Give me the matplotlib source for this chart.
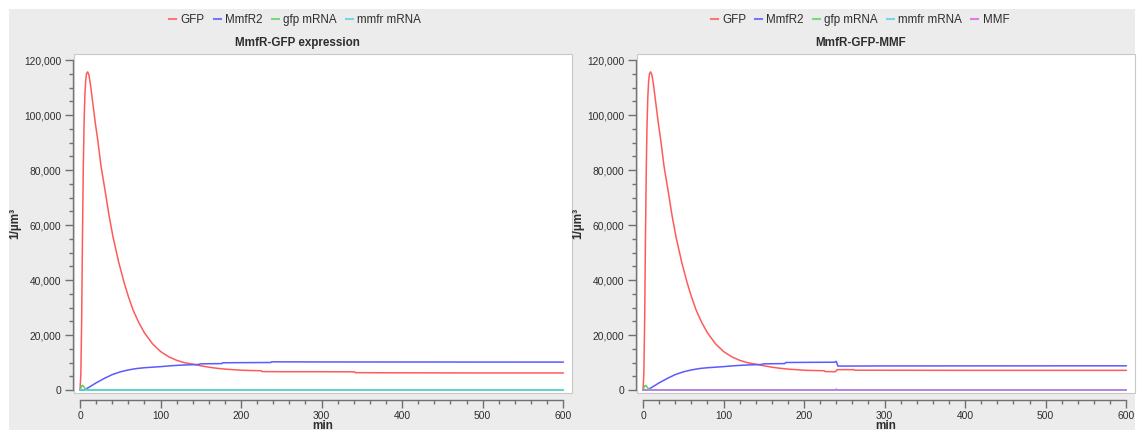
import matplotlib
matplotlib.use("Agg")
import matplotlib.pyplot as plt
from matplotlib.patches import Rectangle
from matplotlib.lines import Line2D
from matplotlib.ticker import MultipleLocator, FuncFormatter

plt.rcParams['font.family'] = ['Liberation Sans', 'DejaVu Sans']

# ---- data (time in min, concentration in 1/µm³) ----
gfp_t = [0, 1, 2, 3, 4, 5, 6, 7, 8, 9.5, 11, 13, 16, 19, 22, 26, 31, 36, 41, 48,
         55, 60, 66, 73, 80, 90, 100, 110, 120, 130, 140, 150, 160, 170, 180, 190,
         200, 210, 225, 226, 250, 300, 341, 342, 400, 500, 600]
gfp_a = [0, 6000, 25000, 55000, 80000, 97000, 107000, 112500, 115000, 115700,
         114600, 111000, 104000, 97000, 90900, 81500, 72700, 63500, 55600, 46500,
         38800, 34000, 29000, 24500, 20800, 16800, 14000, 12100, 10800, 9900, 9400,
         8800, 8300, 7900, 7600, 7400, 7200, 7100, 7000, 6700, 6650, 6650, 6600,
         6300, 6250, 6200, 6200]

mmfr_t = [0, 5, 10, 20, 30, 40, 50, 60, 70, 80, 90, 100, 110, 120, 130, 140, 148,
          149, 160, 176, 177, 200, 237, 238, 300, 600]
mmfr_a = [0, 0, 800, 2600, 4200, 5600, 6600, 7300, 7800, 8100, 8300, 8500, 8750,
          8950, 9100, 9200, 9300, 9500, 9550, 9600, 9900, 9950, 10000, 10250, 10200,
          10150]

gfp_mrna_t = [0, 1, 2, 3, 4, 5, 6, 8, 10, 12, 600]
gfp_mrna_v = [0, 700, 1400, 1700, 1500, 1100, 700, 250, 80, 0, 0]

mmfr_mrna_t = [0, 600]
mmfr_mrna_v = [0, 0]

# MMF-induced run: identical until the inducer pulse at t = 240 min
gfp_b_t = [0, 1, 2, 3, 4, 5, 6, 7, 8, 9.5, 11, 13, 16, 19, 22, 26, 31, 36, 41, 48,
           55, 60, 66, 73, 80, 90, 100, 110, 120, 130, 140, 150, 160, 170, 180, 190,
           200, 210, 225, 226, 239, 241, 262, 263, 400, 600]
gfp_b = [0, 6000, 25000, 55000, 80000, 97000, 107000, 112500, 115000, 115700,
         114600, 111000, 104000, 97000, 90900, 81500, 72700, 63500, 55600, 46500,
         38800, 34000, 29000, 24500, 20800, 16800, 14000, 12100, 10800, 9900, 9400,
         8800, 8300, 7900, 7600, 7400, 7200, 7100, 7000, 6700, 6650, 7400, 7400,
         7200, 7150, 7150]

mmfr_b_t = [0, 5, 10, 20, 30, 40, 50, 60, 70, 80, 90, 100, 110, 120, 130, 140, 148,
            149, 160, 176, 177, 200, 238, 240, 242, 300, 600]
mmfr_b = [0, 0, 800, 2600, 4200, 5600, 6600, 7300, 7800, 8100, 8300, 8500, 8750,
          8950, 9100, 9200, 9300, 9500, 9550, 9600, 10000, 10050, 10100, 10400, 8700,
          8750, 8800]

mmf_t = [0, 239, 240, 241, 600]
mmf_v = [0, 0, 400, 0, 0]

C_GFP = '#ff5a5a'
C_MMFR = '#5a5aff'
C_GFPM = '#5ad65a'
C_MMFRM = '#5ad0e6'
C_MMF = '#e65ae6'

fig = plt.figure(figsize=(11.38, 4.30), dpi=100)
W, H = 1138, 430
fig.patches.append(Rectangle((9 / W, 0), (1135 - 9) / W, (H - 9) / H,
                             transform=fig.transFigure, facecolor='#ececec',
                             edgecolor='none', zorder=-10))

TXT = '#2e2e2e'
AX = '#707070'


def make_axes(x0, x1):
    ax = fig.add_axes([x0 / W, (H - 393) / H, (x1 - x0) / W, (393 - 54) / H])
    ax.set_facecolor('white')
    ax.set_xlim(-7.5, 611)
    ax.set_ylim(-1090, 122200)
    for s in ('top', 'right'):
        ax.spines[s].set_visible(False)
    ax.spines['left'].set_position(('outward', 1))
    ax.spines['bottom'].set_position(('outward', 5))
    ax.spines['left'].set_bounds(0, 120000)
    ax.spines['bottom'].set_bounds(0, 600)
    for s in ('left', 'bottom'):
        ax.spines[s].set_color(AX)
        ax.spines[s].set_linewidth(1.0)
    ax.add_patch(Rectangle((0, 0), 1, 1, transform=ax.transAxes, fill=False,
                           edgecolor='#c8c8c8', linewidth=0.8, zorder=5,
                           clip_on=False))
    ax.xaxis.set_major_locator(MultipleLocator(100))
    ax.xaxis.set_minor_locator(MultipleLocator(20))
    ax.yaxis.set_major_locator(MultipleLocator(20000))
    ax.yaxis.set_minor_locator(MultipleLocator(5000))
    ax.yaxis.set_major_formatter(FuncFormatter(lambda v, p: f'{int(v):,}'))
    ax.tick_params(which='major', length=6, width=1, color=AX, labelsize=7.4,
                   labelcolor=TXT, pad=2)
    ax.tick_params(which='minor', length=3, width=1, color=AX)
    ax.set_xlabel('min', fontsize=8.5, fontweight='bold', color=TXT, labelpad=-1)
    ax.set_ylabel('1/µm³', fontsize=8.5, fontweight='bold', color=TXT, labelpad=2)
    return ax


LW = 1.1
ax1 = make_axes(74, 572)
ax1.plot(gfp_t, gfp_a, color=C_GFP, lw=LW)
ax1.plot(mmfr_t, mmfr_a, color=C_MMFR, lw=LW)
ax1.plot(gfp_mrna_t, gfp_mrna_v, color=C_GFPM, lw=LW)
ax1.plot(mmfr_mrna_t, mmfr_mrna_v, color=C_MMFRM, lw=LW)

ax2 = make_axes(637, 1135)
ax2.plot(gfp_b_t, gfp_b, color=C_GFP, lw=LW)
ax2.plot(mmfr_b_t, mmfr_b, color=C_MMFR, lw=LW)
ax2.plot(gfp_mrna_t, gfp_mrna_v, color=C_GFPM, lw=LW)
ax2.plot(mmfr_mrna_t, mmfr_mrna_v, color=C_MMFRM, lw=LW)
ax2.plot(mmf_t, mmf_v, color=C_MMF, lw=LW, alpha=0.8)

fig.text(297 / W, 1 - 43 / H, 'MmfR-GFP expression', ha='center', va='center',
         fontsize=8.4, fontweight='bold', color=TXT)
fig.text(861 / W, 1 - 43 / H, 'MmfR-GFP-MMF', ha='center', va='center',
         fontsize=8.4, fontweight='bold', color=TXT)


def handles(names, colors):
    return [Line2D([], [], color=c, lw=1.5, alpha=0.8, label=n)
            for n, c in zip(names, colors)]


leg_kw = dict(loc='center', frameon=False, fontsize=8.4, handlelength=0.6,
              handletextpad=0.35, columnspacing=0.8, labelcolor=TXT)
fig.legend(handles=handles(['GFP', 'MmfR2', 'gfp mRNA', 'mmfr mRNA'],
                           [C_GFP, C_MMFR, C_GFPM, C_MMFRM]),
           bbox_to_anchor=(295 / W, 1 - 20 / H), ncol=4, **leg_kw)
fig.legend(handles=handles(['GFP', 'MmfR2', 'gfp mRNA', 'mmfr mRNA', 'MMF'],
                           [C_GFP, C_MMFR, C_GFPM, C_MMFRM, C_MMF]),
           bbox_to_anchor=(860 / W, 1 - 20 / H), ncol=5, **leg_kw)

fig.savefig('out.png', dpi=100)
